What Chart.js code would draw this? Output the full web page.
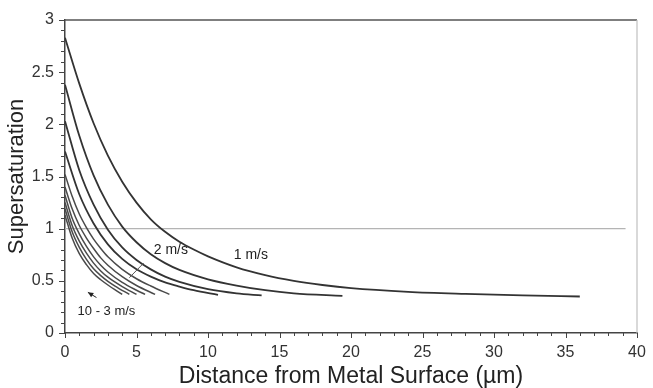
<!DOCTYPE html>
<html><head><meta charset="utf-8">
<script src="https://cdn.jsdelivr.net/npm/chart.js@4.4.0/dist/chart.umd.min.js"></script>
<style>html,body{margin:0;padding:0;background:#fff;}</style>
</head><body>
<canvas id="c" width="653" height="388"></canvas>
<script>
// Supersaturation vs. distance from the metal surface, one profile per flow velocity
const dist_1 = [0,1,2,3,4,5,6,7,8,9,10,12,14,16,18,20,24,28,32,36];
const sat_1  = [2.83,2.39,2.01,1.70,1.45,1.25,1.09,0.97,0.875,0.80,0.735,0.63,0.555,0.50,0.46,0.43,0.395,0.375,0.36,0.35];
const dist_2 = [0,1,2,3,4,5,6,7,8,10,12,14,16,19.4];
const sat_2  = [2.38,1.89,1.51,1.23,1.02,0.87,0.755,0.67,0.605,0.515,0.455,0.41,0.38,0.355];
const dist_3 = [0,1,2,3,4,5,6,7,8,10,12,13.75];
const sat_3  = [2.03,1.56,1.23,0.99,0.82,0.70,0.61,0.54,0.49,0.42,0.38,0.36];
const dist_4 = [0,1,2,3,4,5,6,7,8,9,10.7];
const sat_4  = [1.74,1.33,1.05,0.85,0.71,0.61,0.54,0.485,0.445,0.41,0.365];
const dist_5 = [0,0.5,1,1.5,2,2.5,3,4,5,6,7.3];
const sat_5  = [1.52,1.31,1.14,1.01,0.90,0.81,0.73,0.61,0.52,0.45,0.37];
const dist_6 = [0,0.5,1,1.5,2,2.5,3,4,5,6.3];
const sat_6  = [1.40,1.19,1.03,0.91,0.81,0.72,0.65,0.54,0.455,0.37];
const dist_7 = [0,0.5,1,1.5,2,2.5,3,4,5,5.6];
const sat_7  = [1.32,1.10,0.95,0.83,0.73,0.65,0.585,0.485,0.41,0.37];
const dist_8 = [0,0.5,1,1.5,2,2.5,3,4,5.0];
const sat_8  = [1.25,1.03,0.88,0.765,0.67,0.595,0.535,0.445,0.37];
const dist_9 = [0,0.5,1,1.5,2,2.5,3,3.5,4.5];
const sat_9  = [1.19,0.97,0.82,0.705,0.615,0.55,0.495,0.45,0.37];
const dist_10 = [0,0.5,1,1.5,2,2.5,3,4.0];
const sat_10  = [1.13,0.91,0.76,0.655,0.57,0.51,0.46,0.37];

const velocities = ['1 m/s','2 m/s','3 m/s','4 m/s','5 m/s','6 m/s','7 m/s','8 m/s','9 m/s','10 m/s'];
const distances = [dist_1,dist_2,dist_3,dist_4,dist_5,dist_6,dist_7,dist_8,dist_9,dist_10];
const saturations = [sat_1,sat_2,sat_3,sat_4,sat_5,sat_6,sat_7,sat_8,sat_9,sat_10];

// critical supersaturation reference level
const criticalLevel = 1;
const criticalEnd = 39.2;

const xTicks = [0,5,10,15,20,25,30,35,40];
const yTicks = [0,0.5,1,1.5,2,2.5,3];

const datasets = velocities.map((v, i) => ({
  label: v,
  data: distances[i].map((d, j) => ({x: d, y: saturations[i][j]})),
  borderColor: i < 4 ? '#333' : '#4a4a4a',
  borderWidth: i < 4 ? 1.8 : 1.5,
  pointRadius: 0,
  cubicInterpolationMode: 'monotone',
  fill: false
}));

const FONT = '"Liberation Sans", Arial, sans-serif';

const frame = {
  id: 'frame',
  beforeDatasetsDraw(chart) {
    const {ctx, chartArea: a, scales: {x, y}} = chart;
    ctx.save();
    // reference line at supersaturation 1
    ctx.strokeStyle = '#b4b4b4';
    ctx.lineWidth = 1.2;
    ctx.beginPath();
    ctx.moveTo(x.getPixelForValue(0), y.getPixelForValue(criticalLevel));
    ctx.lineTo(x.getPixelForValue(criticalEnd), y.getPixelForValue(criticalLevel));
    ctx.stroke();
    // top and right frame
    ctx.strokeStyle = '#555';
    ctx.lineWidth = 1.5;
    ctx.beginPath();
    ctx.moveTo(a.left, a.top);
    ctx.lineTo(a.right, a.top);
    ctx.stroke();
    ctx.strokeStyle = '#c0c0c0';
    ctx.lineWidth = 1.2;
    ctx.beginPath();
    ctx.moveTo(a.right, a.top);
    ctx.lineTo(a.right, a.bottom);
    ctx.stroke();
    ctx.restore();
  },
  afterDatasetsDraw(chart) {
    const {ctx, chartArea: a, scales: {x, y}} = chart;
    ctx.save();
    ctx.strokeStyle = '#444';
    ctx.lineWidth = 1;
    // y tick marks every 0.1, longer at every 0.5
    for (let k = 0; k <= 30; k++) {
      const py = Math.round(y.getPixelForValue(k / 10)) + 0.5;
      const len = k % 5 === 0 ? 6 : 4;
      ctx.beginPath();
      ctx.moveTo(a.left - len, py);
      ctx.lineTo(a.left, py);
      ctx.stroke();
    }
    // x tick marks every 1, longer at every 5
    for (let k = 0; k <= 40; k++) {
      const px = Math.round(x.getPixelForValue(k)) + 0.5;
      const len = k % 5 === 0 ? 5 : 3;
      ctx.beginPath();
      ctx.moveTo(px, a.bottom);
      ctx.lineTo(px, a.bottom + len);
      ctx.stroke();
    }
    // curve labels
    ctx.fillStyle = '#222';
    ctx.font = '14px ' + FONT;
    ctx.textAlign = 'center';
    ctx.textBaseline = 'middle';
    ctx.fillText('1 m/s', x.getPixelForValue(13.0), y.getPixelForValue(0.75));
    ctx.fillText('2 m/s', x.getPixelForValue(7.4), y.getPixelForValue(0.79));
    ctx.font = '13px ' + FONT;
    ctx.fillText('10 - 3 m/s', x.getPixelForValue(2.9), y.getPixelForValue(0.21));
    // leader from the 2 m/s label
    ctx.strokeStyle = '#555';
    ctx.lineWidth = 1;
    ctx.beginPath();
    ctx.moveTo(x.getPixelForValue(5.5), y.getPixelForValue(0.67));
    ctx.lineTo(x.getPixelForValue(4.5), y.getPixelForValue(0.53));
    ctx.stroke();
    // arrow toward the bundle of faster flows
    const ax0 = x.getPixelForValue(2.2), ay0 = y.getPixelForValue(0.34);
    const ax1 = x.getPixelForValue(1.6), ay1 = y.getPixelForValue(0.39);
    ctx.strokeStyle = '#222';
    ctx.beginPath();
    ctx.moveTo(ax0, ay0);
    ctx.lineTo(ax1, ay1);
    ctx.stroke();
    const ang = Math.atan2(ay1 - ay0, ax1 - ax0);
    ctx.fillStyle = '#222';
    ctx.beginPath();
    ctx.moveTo(ax1, ay1);
    ctx.lineTo(ax1 - 6 * Math.cos(ang - 0.45), ay1 - 6 * Math.sin(ang - 0.45));
    ctx.lineTo(ax1 - 6 * Math.cos(ang + 0.45), ay1 - 6 * Math.sin(ang + 0.45));
    ctx.closePath();
    ctx.fill();
    ctx.restore();
  }
};

new Chart(document.getElementById('c'), {
  type: 'line',
  data: {datasets},
  options: {
    responsive: false,
    animation: false,
    devicePixelRatio: 1,
    layout: {padding: {top: 20, right: 16, left: 0, bottom: 0}},
    plugins: {legend: {display: false}, tooltip: {enabled: false}},
    scales: {
      x: {
        type: 'linear', min: 0, max: 40,
        afterFit(s) { s.height = 55; },
        afterBuildTicks(s) { s.ticks = xTicks.map(v => ({value: v})); },
        grid: {drawOnChartArea: false, drawTicks: true, tickLength: 5, tickColor: 'rgba(0,0,0,0)'},
        border: {display: true, color: '#444', width: 1.5},
        ticks: {padding: 5, color: '#333', font: {family: FONT, size: 16}, maxRotation: 0, autoSkip: false,
                callback: v => String(v)},
        title: {display: true, text: 'Distance from Metal Surface (µm)', color: '#222',
                font: {family: FONT, size: 23, lineHeight: 1}, padding: {top: 0, bottom: 0}}
      },
      y: {
        type: 'linear', min: 0, max: 3,
        afterFit(s) { s.width = 65; },
        afterBuildTicks(s) { s.ticks = yTicks.map(v => ({value: v})); },
        grid: {drawOnChartArea: false, drawTicks: true, tickLength: 6, tickColor: 'rgba(0,0,0,0)'},
        border: {display: true, color: '#444', width: 1.5},
        ticks: {padding: 5, color: '#333', font: {family: FONT, size: 16}, autoSkip: false,
                callback: v => String(v)},
        title: {display: true, text: 'Supersaturation', color: '#222',
                font: {family: FONT, size: 22, lineHeight: 1}, padding: {top: 6, bottom: 0}}
      }
    }
  },
  plugins: [frame]
});
</script>
</body></html>
